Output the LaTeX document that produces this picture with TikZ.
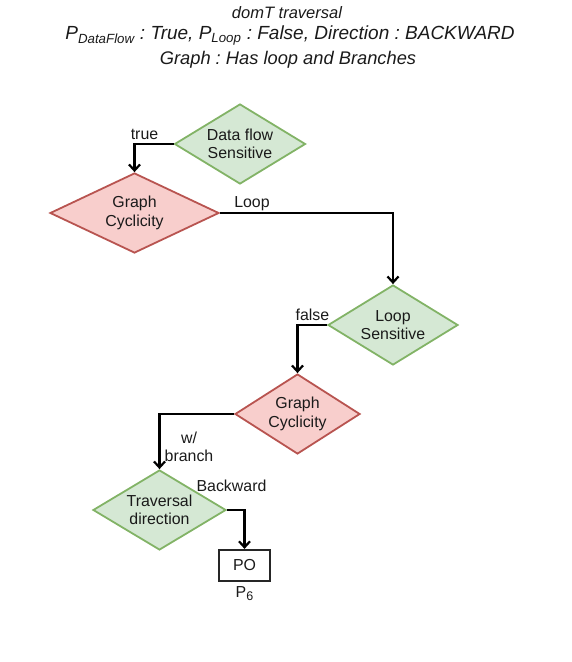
\documentclass[tikz,border=0pt]{standalone}
\usepackage{fontspec}
\setmainfont{Liberation Sans}
\usetikzlibrary{shapes.geometric,arrows.meta}
\definecolor{gfill}{HTML}{D5E8D4}
\definecolor{gline}{HTML}{82B366}
\definecolor{rfill}{HTML}{F8CECC}
\definecolor{rline}{HTML}{B85450}
\definecolor{txtc}{HTML}{1A1A1A}
\frenchspacing
\tikzset{
  dia/.style={diamond, inner sep=0pt, line width=1.8pt},
  gdia/.style={dia, draw=gline, fill=gfill},
  rdia/.style={dia, draw=rline, fill=rfill},
  txt/.style={align=center, text=txtc, font=\fontsize{15.9}{18.5}\selectfont, inner sep=0pt},
  arr/.style={draw=black, line width=2.2pt, -{Straight Barb[length=6pt,width=11pt,line width=2.2pt]}},
  pobox/.style={draw=black!85, fill=white, line width=2.2pt, minimum width=51pt, minimum height=31pt, inner sep=0pt},
  ttl/.style={align=center, text=txtc, inner sep=0pt, font=\itshape}
}
\begin{document}
\begin{tikzpicture}[x=1pt,y=-1pt]
\useasboundingbox (0,0) rectangle (571,662);
% title
\node[ttl, font=\itshape\fontsize{16.5}{19}\selectfont] (t1) at (287,13) {domT traversal};
\node[ttl, font=\itshape\fontsize{19}{22}\selectfont] (t2) at (290,35.5) {P\textsubscript{DataFlow} : True, P\textsubscript{Loop} : False, Direction : BACKWARD};
\node[ttl, font=\itshape\fontsize{18.3}{22}\selectfont] (t3) at (288,60) {Graph : Has loop and Branches};
% shapes
\node[gdia, minimum width=131pt, minimum height=80pt] (ds) at (240,144) {};
\node[txt] (dst) at (ds) {Data flow\\Sensitive};
\node[rdia, minimum width=169pt, minimum height=80pt] (gc1) at (134.5,213) {};
\node[txt] (gc1t) at (gc1) {Graph\\Cyclicity};
\node[gdia, minimum width=130pt, minimum height=80pt] (ls) at (393,325) {};
\node[txt] (lst) at (ls) {Loop\\Sensitive};
\node[rdia, minimum width=125pt, minimum height=80pt] (gc2) at (297.5,414) {};
\node[txt] (gc2t) at (gc2) {Graph\\Cyclicity};
\node[gdia, minimum width=133pt, minimum height=80pt] (td) at (159.5,510) {};
\node[txt] (tdt) at (td) {Traversal\\direction};
\node[pobox, txt] (po) at (244.5,565.5) {PO};
\node[txt] (p6) at (244.5,594) {P\raisebox{-0.35ex}{\fontsize{12.5}{12.5}\selectfont 6}};
% connectors
\draw[arr] (ds.west) -| (gc1.north);
\draw[arr] (gc1.east) -| (ls.north);
\draw[arr] (ls.west) -| (gc2.north);
\draw[arr] (gc2.west) -| (td.north);
\draw[arr] (td.east) -| (po.north);
% labels
\node[txt] (ltrue) at (144.5,134) {true};
\node[txt] (lloop) at (252,204) {Loop};
\node[txt] (lfalse) at (312.5,315) {false};
\node[txt] (lbranch) at (189,447) {w/\\branch};
\node[txt] (lback) at (231.5,486) {Backward};
\end{tikzpicture}
\end{document}
